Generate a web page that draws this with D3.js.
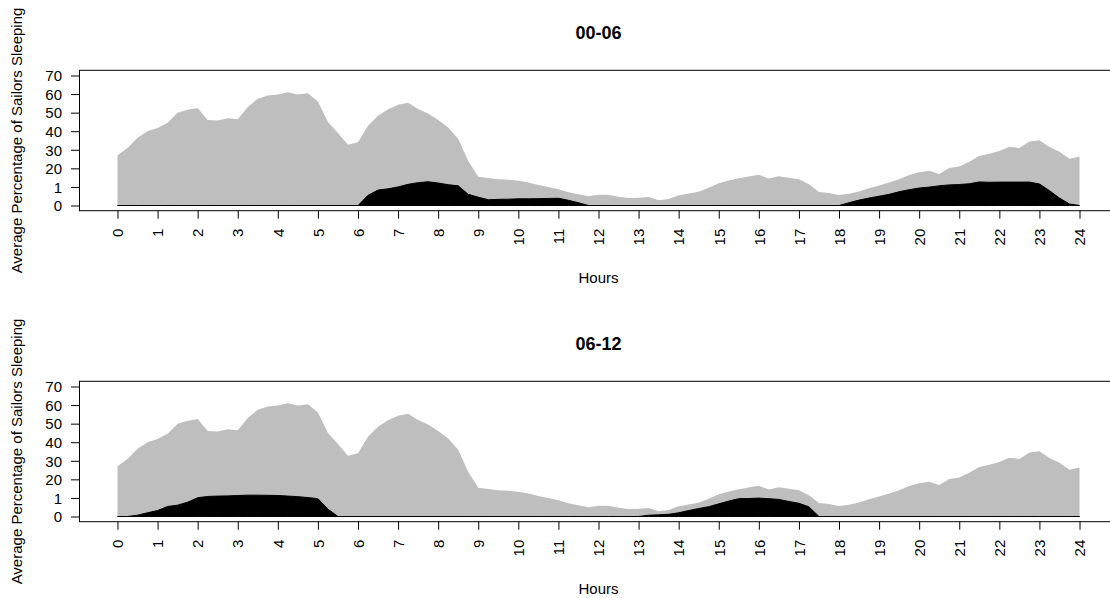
<!DOCTYPE html>
<html>
<head>
<meta charset="utf-8">
<script src="https://cdn.jsdelivr.net/npm/d3@7"></script>
<style>
  html, body { margin: 0; padding: 0; background: #fff; }
  svg { display: block; }
  text { font-family: "Liberation Sans", Arial, sans-serif; fill: #000; }
</style>
</head>
<body>
<svg id="chart" width="1110" height="598"></svg>
<script>
// ---- data ----
const panelTitles = ["00-06", "06-12"];
const xTickLabels = ["0","1","2","3","4","5","6","7","8","9","10","11","12","13","14","15","16","17","18","19","20","21","22","23","24"];
const yTickValues = [0, 10, 20, 30, 40, 50, 60, 70];
const yTickLabels = ["0", "1", "20", "30", "40", "50", "60", "70"];
// time grid: every quarter hour from 0 to 24
const hours = d3.range(0, 24.001, 0.25);

// average % of all sailors sleeping (grey)
const allSleeping = [
  27, 31, 36.5, 40, 41.7, 44.5, 50, 51.5,
  52.5, 46, 45.8, 47, 46.5, 53, 57.5, 59.2,
  59.8, 61, 59.8, 60.5, 56, 45, 39, 32.7,
  34, 43, 48.3, 51.8, 54.2, 55.3, 52, 49.5,
  46, 42, 36, 24, 15.5, 14.8, 14.2, 13.9,
  13.3, 12.4, 11, 9.9, 8.7, 7.2, 6, 5,
  5.8, 5.8, 4.7, 4.1, 4.2, 4.6, 2.8, 3.5,
  5.5, 6.5, 7.4, 9.5, 12, 13.5, 14.7, 15.6,
  16.5, 14.6, 15.8, 15, 14.2, 11.5, 7.3, 6.7,
  5.6, 6.3, 7.6, 9.3, 10.8, 12.4, 14.2, 16.4,
  17.9, 18.7, 17, 20.2, 21, 23.5, 26.6, 27.8,
  29.4, 31.7, 31, 34.5, 35.2, 31.5, 29, 25.2,
  26.4
];

// watch 00-06 sailors sleeping (black)
const watch0006 = [
  0, 0, 0, 0, 0, 0, 0, 0,
  0, 0, 0, 0, 0, 0, 0, 0,
  0, 0, 0, 0, 0, 0, 0, 0,
  0, 5.5, 8.3, 9, 10, 11.4, 12.3, 12.8,
  12.1, 11.2, 10.6, 6, 4.5, 3.1, 3.3, 3.4,
  3.6, 3.6, 3.7, 3.8, 3.9, 2.8, 1.5, 0,
  0, 0, 0, 0, 0, 0, 0, 0,
  0, 0, 0, 0, 0, 0, 0, 0,
  0, 0, 0, 0, 0, 0, 0, 0,
  0, 1.5, 2.9, 4, 5, 6, 7.4, 8.5,
  9.4, 9.9, 10.6, 11.1, 11.3, 11.7, 12.7, 12.5,
  12.6, 12.6, 12.6, 12.6, 11.6, 8, 4, 0.8,
  0
];

// watch 06-12 sailors sleeping (black)
const watch0612 = [
  0, 0, 0.7, 2, 3.2, 5.4, 6.1, 7.7,
  10.1, 10.8, 11, 11.1, 11.3, 11.5, 11.5, 11.4,
  11.3, 11, 10.7, 10.2, 9.6, 4, 0, 0,
  0, 0, 0, 0, 0, 0, 0, 0,
  0, 0, 0, 0, 0, 0, 0, 0,
  0, 0, 0, 0, 0, 0, 0, 0,
  0, 0, 0, 0, 0, 0, 0, 0,
  0, 0, 0, 0, 0, 0, 0, 0,
  0, 0, 0, 0, 0, 0, 0, 0,
  0, 0, 0, 0, 0, 0, 0, 0,
  0, 0, 0, 0, 0, 0, 0, 0,
  0, 0, 0, 0, 0, 0, 0, 0,
  0
];
// afternoon part of the 06-12 watch (hour, value), placed on the same grid
const watch0612Afternoon = [
  [13.25, 0.7], [13.5, 0.9], [13.75, 1.2], [14, 2], [14.25, 3.2], [14.5, 4.3],
  [14.75, 5.3], [15, 6.8], [15.25, 8.3], [15.5, 9.6], [15.75, 9.7], [16, 9.9],
  [16.25, 9.6], [16.5, 9.2], [16.75, 8.1], [17, 7.1], [17.25, 5.2]
];
watch0612Afternoon.forEach(([h, v]) => { watch0612[Math.round(h * 4)] = v; });
const watchSeries = [watch0006, watch0612];

// ---- drawing ----
const svg = d3.select("#chart");
const box = { left: 79, right: 1118, top: 70.3, bottom: 210.7 };
const panelOffset = 311;
const FS = 15;

const x = d3.scaleLinear().domain([-0.96, 24.96]).range([box.left, box.right]);

panelTitles.forEach((title, p) => {
  const g = svg.append("g").attr("transform", `translate(0,${p * panelOffset})`);
  const y = d3.scaleLinear().domain([-2.8, 72.8]).range([box.bottom, box.top]);

  const areaGen = d3.area()
    .x((d, i) => x(hours[i]))
    .y0(y(0))
    .y1(d => y(d));

  g.append("path")
    .datum(allSleeping)
    .attr("d", areaGen)
    .attr("fill", "#bebebe")
    .attr("stroke", "none");

  g.append("path")
    .datum(watchSeries[p])
    .attr("d", areaGen)
    .attr("fill", "#000")
    .attr("stroke", "#000")
    .attr("stroke-width", 1);

  // box
  g.append("rect")
    .attr("x", box.left + 0.5).attr("y", box.top)
    .attr("width", box.right - box.left).attr("height", box.bottom - box.top)
    .attr("fill", "none").attr("stroke", "#000").attr("stroke-width", 1);

  // x axis
  const xAxis = g.append("g").attr("transform", `translate(0,${box.bottom})`)
    .call(d3.axisBottom(x).tickValues(d3.range(0, 25)).tickFormat((d, i) => xTickLabels[i]).tickSize(8).tickSizeOuter(0));
  xAxis.select(".domain").remove();
  xAxis.selectAll(".tick line").attr("stroke", "#000");
  xAxis.selectAll(".tick text")
    .attr("font-size", FS)
    .attr("transform", "rotate(-90)")
    .attr("text-anchor", "end")
    .attr("x", -18)
    .attr("y", 0)
    .attr("dy", "0.35em");

  // y axis
  const yAxis = g.append("g").attr("transform", `translate(${box.left},0)`)
    .call(d3.axisLeft(y).tickValues(yTickValues).tickFormat((d, i) => yTickLabels[i]).tickSize(8).tickSizeOuter(0));
  yAxis.select(".domain").remove();
  yAxis.selectAll(".tick line").attr("stroke", "#000");
  yAxis.selectAll(".tick text")
    .attr("font-size", FS)
    .attr("x", -17)
    .attr("dy", "0.35em");

  // title
  g.append("text")
    .attr("x", (box.left + box.right) / 2).attr("y", 39.3)
    .attr("text-anchor", "middle")
    .attr("font-size", 18).attr("font-weight", "bold")
    .text(title);

  // x label
  g.append("text")
    .attr("x", (box.left + box.right) / 2).attr("y", 282.7)
    .attr("text-anchor", "middle")
    .attr("font-size", FS)
    .text("Hours");

  // y label
  g.append("text")
    .attr("transform", `translate(22,${(box.top + box.bottom) / 2}) rotate(-90)`)
    .attr("text-anchor", "middle")
    .attr("font-size", FS)
    .text("Average Percentage of Sailors Sleeping");
});
</script>
</body>
</html>
